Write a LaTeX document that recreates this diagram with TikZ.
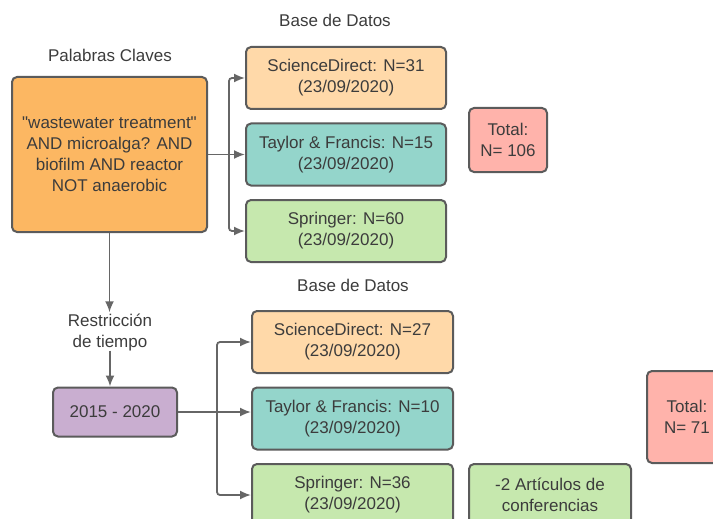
\documentclass[tikz,border=0pt]{standalone}
\usepackage{fontspec}
\setmainfont{Liberation Sans}
\usetikzlibrary{arrows.meta}

\definecolor{kworange}{HTML}{FCB762}
\definecolor{sdorange}{HTML}{FFD9A9}
\definecolor{tfteal}{HTML}{94D5CB}
\definecolor{spgreen}{HTML}{C6E8AE}
\definecolor{totred}{HTML}{FFB3AB}
\definecolor{datepurple}{HTML}{C9AED0}
\definecolor{edgegray}{HTML}{5B5B5B}
\definecolor{linegray}{HTML}{666666}
\definecolor{textgray}{HTML}{3C3C3C}

\begin{document}
\begin{tikzpicture}[x=1pt,y=-1pt,
	every node/.style={font=\fontsize{17}{21}\selectfont,text=textgray,align=center},
	box/.style={draw=edgegray,line width=2pt,rounded corners=5pt,inner sep=0pt},
	dbbox/.style={box,minimum width=200pt,minimum height=62pt},
	link/.style={draw=linegray,line width=1.8pt,rounded corners=3pt,-{Latex[length=11pt,width=9pt]}},
	line/.style={draw=linegray,line width=1.8pt}]
	\useasboundingbox (0,0) rectangle (713,519);
	\clip (0,0) rectangle (713,519);

	% labels
	\node (kwlabel) at (110,55) {Palabras Claves};
	\node (dblabel1) at (335,20) {Base de Datos};
	\node (dblabel2) at (353,285) {Base de Datos};

	% first search
	\node (kw) [box,fill=kworange,minimum width=195pt,minimum height=155pt] at (109.5,154.5)
		{\textquotedbl wastewater treatment\textquotedbl\\AND microalga? AND\\biofilm AND reactor\\NOT anaerobic};
	\node (sd1) [dbbox,fill=sdorange] at (346,78) {ScienceDirect: N=31\\(23/09/2020)};
	\node (tf1) [dbbox,fill=tfteal] at (346,154.5) {Taylor \& Francis: N=15\\(23/09/2020)};
	\node (sp1) [dbbox,fill=spgreen] at (346,231) {Springer: N=60\\(23/09/2020)};
	\node (tot1) [box,fill=totred,minimum width=78pt,minimum height=64pt] at (508,140) {Total:\\N= 106};

	% time restriction
	\node (rest) [inner sep=2pt] at (110,333) {Restricción\\de tiempo};
	\node (date) [box,fill=datepurple,minimum width=124pt,minimum height=49pt] at (115,412) {2015 - 2020};

	% second search
	\node (sd2) [dbbox,fill=sdorange,minimum width=201pt] at (352.5,342) {ScienceDirect: N=27\\(23/09/2020)};
	\node (tf2) [dbbox,fill=tfteal,minimum width=201pt] at (352.5,418.5) {Taylor \& Francis: N=10\\(23/09/2020)};
	\node (sp2) [dbbox,fill=spgreen,minimum width=201pt] at (352.5,495) {Springer: N=36\\(23/09/2020)};
	\node (conf) [box,fill=spgreen,minimum width=162pt,minimum height=62pt] at (550,495) {-2 Artículos de\\conferencias};
	\node (tot2) [box,fill=totred,minimum width=80pt,minimum height=92pt] at (687,417) {Total:\\N= 71};

	% connectors
	\path[line] (kw.east) -- ++(21,0) coordinate (j1);
	\draw[link] (j1) |- (sd1.west);
	\draw[link] (kw.east) -- (tf1.west);
	\draw[link] (j1) |- (sp1.west);
	\draw[link] (kw.south) -- (kw.south |- rest.north);
	\draw[link] ([yshift=3pt]rest.south) -- (rest.south |- date.north);
	\path[line] (date.east) -- ++(39,0) coordinate (j2);
	\draw[link] (j2) |- (sd2.west);
	\draw[link] (date.east) -- (date.east -| tf2.west);
	\draw[link] (j2) |- (sp2.west);
\end{tikzpicture}
\end{document}
